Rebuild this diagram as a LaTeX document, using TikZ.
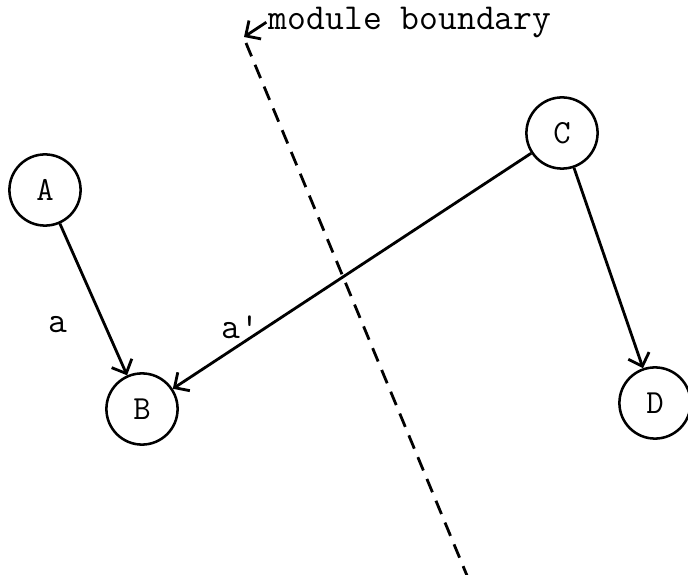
\documentclass[tikz,border=0pt]{standalone}
\usepackage{fontspec}
\usetikzlibrary{arrows.meta,positioning}

\begin{document}
\begin{tikzpicture}[every node/.style={font=\ttfamily\fontsize{26}{30}\selectfont},
    proc/.style={draw, circle, line width=1.8pt, minimum size=1.78cm, inner sep=0pt,
      font=\ttfamily\fontsize{24}{28}\selectfont},
    flow/.style={-{Straight Barb[length=2.8mm, width=5.5mm]}, line width=2pt}]
  \useasboundingbox (0,0) rectangle (17.2,14.375);
  \node[proc] (A) at (1.125,9.625) {A};
  \node[proc] (B) at (3.55,4.15) {B};
  \node[proc] (C) at (14.05,11.05) {C};
  \node[proc] (D) at (16.375,4.3) {D};
  % edge labels
  \node (la) at (1.45,6.25) {a};
  \node (lap) at (6.0,6.2) {a'};
  % arrows
  \draw[flow] (A) -- (B);
  \draw[flow] (C) -- (B);
  \draw[flow] (C) -- (D);
  % module boundary
  \node[anchor=base west] (mb) at (6.6,13.625) {module boundary};
  \coordinate (bt) at (6.1,13.45);
  \coordinate (b1) at (6.15,13.3);
  \coordinate (b2) at (11.7,-0.075);
  \draw[flow, shorten <=-2pt] (mb.west |- 0,13.78) -- (bt);
  \draw[line width=2pt, dash pattern=on 0.36cm off 0.23cm] (b1) -- (b2);
\end{tikzpicture}
\end{document}
